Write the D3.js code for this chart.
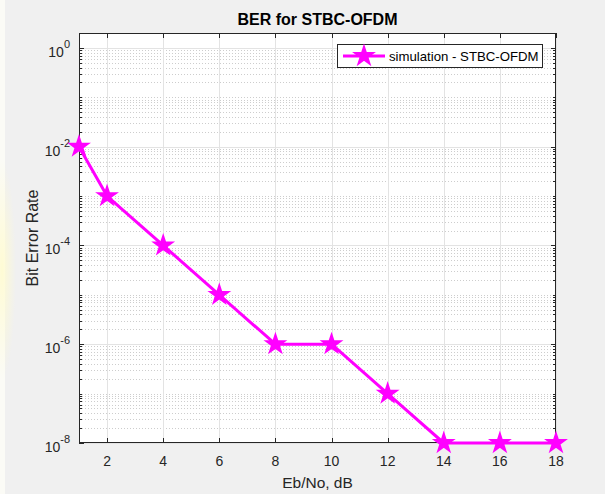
<!DOCTYPE html>
<html><head><meta charset="utf-8">
<script src="https://cdn.jsdelivr.net/npm/d3@7"></script>
<style>body{margin:0;background:#f0f0f0;}svg{display:block;font-family:"Liberation Sans",Arial,sans-serif;}</style>
</head><body>
<svg id="c" width="605" height="494"></svg>
<script>
const ebno = [1, 2, 4, 6, 8, 10, 12, 14, 16, 18];
const ber = [1e-2, 1e-3, 1e-4, 1e-5, 1e-6, 1e-6, 1e-7, 1e-8, 1e-8, 1e-8];
const xTicks = [2, 4, 6, 8, 10, 12, 14, 16, 18];
const yTickExps = [0, -2, -4, -6, -8];
const seriesName = "simulation - STBC-OFDM";

const svg = d3.select("#c");
const L = 79, R = 556, T = 33, B = 443;
svg.append("rect").attr("width",605).attr("height",494).attr("fill","#f0f0f0");
svg.append("rect").attr("x",0).attr("y",0).attr("width",5).attr("height",494).attr("fill","#fbfbf6");
const defs = svg.append("defs");
const rg = defs.append("radialGradient").attr("id","yg");
rg.append("stop").attr("offset","0%").attr("stop-color","#fffbd0").attr("stop-opacity",0.9);
rg.append("stop").attr("offset","100%").attr("stop-color","#fffbd0").attr("stop-opacity",0);
svg.append("ellipse").attr("cx",2).attr("cy",270).attr("rx",14).attr("ry",110).attr("fill","url(#yg)");

const x = d3.scaleLinear().domain([1,18]).range([L,R]);
const y = d3.scaleLog().domain([1e-8, 2]).range([B,T]);

svg.append("rect").attr("x",L).attr("y",T).attr("width",R-L).attr("height",B-T).attr("fill","#fff");

// minor grid
const minor = [];
for (let e=-8; e<=0; e++) for (let m=1; m<=9; m++) {
  const v = m*Math.pow(10,e);
  if (v>2.0001) continue;
  if (m===1 && e%2===0) continue;
  minor.push(v);
}
minor.push(2);
const g = svg.append("g");
g.selectAll(".mg").data(minor).join("line")
  .attr("x1",L).attr("x2",R).attr("y1",d=>Math.round(y(d))+0.5).attr("y2",d=>Math.round(y(d))+0.5)
  .attr("stroke","#cdcdcd").attr("stroke-width",1).attr("stroke-dasharray","1,2");
// major grid
g.selectAll(".gy").data(yTickExps).join("line")
  .attr("x1",L).attr("x2",R).attr("y1",d=>Math.round(y(Math.pow(10,d)))+0.5).attr("y2",d=>Math.round(y(Math.pow(10,d)))+0.5)
  .attr("stroke","#e3e3e3").attr("stroke-width",1);
g.selectAll(".gx").data(xTicks).join("line")
  .attr("y1",T).attr("y2",B).attr("x1",d=>Math.round(x(d))+0.5).attr("x2",d=>Math.round(x(d))+0.5)
  .attr("stroke","#e3e3e3").attr("stroke-width",1);

// axes box
const ac = "#262626";
svg.append("rect").attr("x",L+0.5).attr("y",T+0.5).attr("width",R-L-1).attr("height",B-T-1)
  .attr("fill","none").attr("stroke",ac).attr("stroke-width",1);

// ticks (inward)
const tk = svg.append("g").attr("stroke",ac).attr("stroke-width",1);
xTicks.forEach(v=>{
  const px = Math.round(x(v))+0.5;
  tk.append("line").attr("x1",px).attr("x2",px).attr("y1",B).attr("y2",B-5);
  tk.append("line").attr("x1",px).attr("x2",px).attr("y1",T).attr("y2",T+5);
});
yTickExps.forEach(e=>{
  const py = Math.round(y(Math.pow(10,e)))+0.5;
  tk.append("line").attr("x1",L).attr("x2",L+5).attr("y1",py).attr("y2",py);
  tk.append("line").attr("x1",R).attr("x2",R-5).attr("y1",py).attr("y2",py);
});
minor.forEach(v=>{
  const py = Math.round(y(v))+0.5;
  tk.append("line").attr("x1",L).attr("x2",L+3).attr("y1",py).attr("y2",py);
  tk.append("line").attr("x1",R).attr("x2",R-3).attr("y1",py).attr("y2",py);
});

// tick labels
const xl = svg.append("g").attr("font-size",14).attr("fill",ac).attr("text-anchor","middle");
xTicks.forEach(v=>{
  xl.append("text").attr("x",x(v)).attr("y",B+23).text(v);
});
const yl = svg.append("g").attr("font-size",14).attr("fill",ac);
yTickExps.forEach(e=>{
  const py = y(Math.pow(10,e));
  const t = yl.append("text").attr("x",70).attr("y",py+9).attr("text-anchor","end");
  t.append("tspan").text("10");
  t.append("tspan").attr("font-size",11).attr("dy",-9).text(e);
});

// labels
svg.append("text").attr("x",(L+R)/2).attr("y",25).attr("text-anchor","middle")
  .attr("font-size",16).attr("font-weight","bold").attr("fill","#000").text("BER for STBC-OFDM");
svg.append("text").attr("x",(L+R)/2).attr("y",488).attr("text-anchor","middle")
  .attr("font-size",15.5).attr("fill",ac).text("Eb/No, dB");
svg.append("text").attr("transform",`translate(38,${(T+B)/2}) rotate(-90)`).attr("text-anchor","middle")
  .attr("font-size",16).attr("fill",ac).text("Bit Error Rate");

// series
const mag = "#ff00ff";
const line = d3.line().x((d,i)=>x(ebno[i])).y(d=>y(d));
svg.append("path").attr("d",line(ber)).attr("fill","none").attr("stroke",mag).attr("stroke-width",3).attr("stroke-linejoin","round");
const star = d3.symbol().type(d3.symbolStar).size(115);
svg.selectAll(".pt").data(ber).join("path")
  .attr("d",star).attr("transform",(d,i)=>`translate(${x(ebno[i])},${y(d)})`)
  .attr("fill",mag).attr("stroke",mag).attr("stroke-width",1.5).attr("stroke-linejoin","miter");

// legend
const lg = svg.append("g");
lg.append("rect").attr("x",337.5).attr("y",44.5).attr("width",205).attr("height",23)
  .attr("fill","#fff").attr("stroke",ac).attr("stroke-width",1);
lg.append("line").attr("x1",343).attr("x2",385).attr("y1",56).attr("y2",56).attr("stroke",mag).attr("stroke-width",3);
lg.append("path").attr("d",star).attr("transform","translate(364,56)").attr("fill",mag).attr("stroke",mag).attr("stroke-width",1.5);
lg.append("text").attr("x",389).attr("y",61).attr("font-size",13.2).attr("fill","#000").text(seriesName);
</script>
</body></html>
